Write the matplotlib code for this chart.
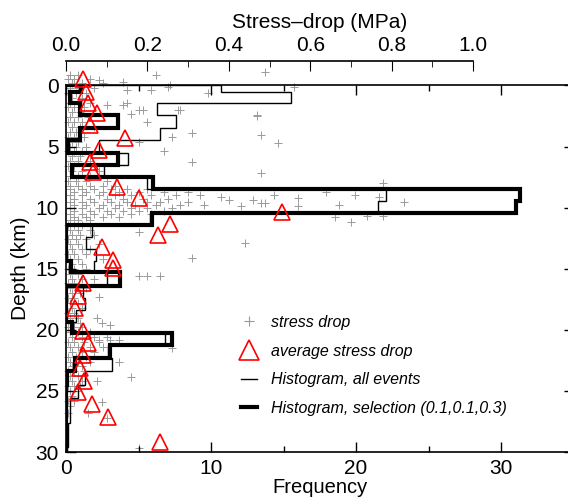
import matplotlib.pyplot as plt
from matplotlib.lines import Line2D
from matplotlib.ticker import FixedLocator, MultipleLocator, FormatStrFormatter

plt.rcParams['font.family'] = ['Liberation Sans', 'DejaVu Sans']

# depth bins (km) and histogram heights (frequency)
depth_edges = [0, 0.5, 1.45, 2.45, 3.45, 4.45, 5.5, 6.5, 7.45, 8.45, 9.45, 10.45,
               11.4, 12.4, 13.4, 14.4, 15.3, 16.4, 17.4, 18.4, 19.35, 20.3, 21.25,
               22.3, 23.4, 24.5, 25.6, 26.6, 27.6, 28.6, 29.6, 30]
hist_all = [10.7, 15.5, 6.25, 7.6, 6.5, 2.3, 4.3, 2.6, 5.6, 22.1, 21.5, 5.8,
            1.8, 1.4, 2.1, 1.9, 2.8, 1.2, 1.3, 0.7, 0.5, 6.8, 2.9, 3.15, 1.3,
            0.85, 0.3, 0.25, 0.15, 0.15, 0.1]
hist_sel = [1.0, 0.3, 0.95, 3.6, 0.95, 0.15, 3.6, 0.4, 6.0, 31.3, 31.0, 5.9,
            0, 0, 0, 0.35, 3.7, 0, 0, 0, 0.4, 7.3, 3.0, 0.6, 0.1,
            0, 0, 0, 0, 0, 0]

# average stress drop per depth
avg_depth = [-0.5, 0.5, 1.4, 2.25, 3.2, 4.3, 5.3, 6.3, 7.1, 8.3, 9.2, 10.35, 11.3,
             12.2, 13.2, 14.3, 14.9, 16.2, 17.2, 18.2, 20.1, 21.1, 22.1, 23.1,
             24.2, 25.1, 26.1, 27.1, 29.2]
avg_stress = [0.042, 0.05, 0.055, 0.075, 0.06, 0.145, 0.08, 0.06, 0.067, 0.125,
              0.18, 0.53, 0.255, 0.226, 0.088, 0.116, 0.116, 0.042, 0.03, 0.022,
              0.042, 0.054, 0.042, 0.034, 0.045, 0.03, 0.064, 0.103, 0.23]

# individual stress drops: (depth km, [stress drops MPa])
sd_rows = [
    (-1.1, [0.49]), (-0.9, [0.01, 0.03, 0.22]), (-0.5, [0.005, 0.02, 0.06]),
    (-0.3, [0.14]), (-0.45, [0.08]), (-0.2, [0.015, 0.04, 0.09]),
    (0.0, [0.255]), (0.1, [0.25]), (0.15, [0.56]),
    (0.2, [0.01, 0.03, 0.07]), (0.35, [0.15, 0.21]), (0.6, [0.005, 0.025, 0.05, 0.35]),
    (1.0, [0.015, 0.04]), (1.4, [0.01, 0.03, 0.06, 0.15]), (1.6, [0.1, 0.14]),
    (1.8, [0.005, 0.02, 0.045]), (2.0, [0.18, 0.19, 0.275, 0.28]),
    (2.2, [0.015, 0.035]), (2.3, [0.16]), (2.4, [0.47]), (2.5, [0.47]),
    (2.6, [0.01, 0.03, 0.055]), (3.0, [0.005, 0.02, 0.04, 0.2]),
    (3.4, [0.015, 0.035, 0.07]), (3.8, [0.01, 0.025]), (3.9, [0.31]),
    (4.05, [0.48]), (4.2, [0.005, 0.02, 0.045, 0.26]), (4.6, [0.015, 0.03, 0.18]),
    (4.7, [0.52]), (5.0, [0.01, 0.025, 0.05]), (5.4, [0.005, 0.02, 0.04, 0.24]),
    (5.8, [0.015, 0.035]), (6.2, [0.01, 0.03, 0.06]), (6.3, [0.31]),
    (6.6, [0.005, 0.02]), (7.0, [0.015, 0.04, 0.08]), (7.2, [0.48]),
    (7.4, [0.01, 0.03, 0.06]), (7.8, [0.005, 0.025, 0.05, 0.1]), (8.0, [0.78]),
    (8.2, [0.01, 0.03, 0.06, 0.09, 0.12]), (8.5, [0.01, 0.04, 0.07, 0.11, 0.15, 0.2]),
    (8.7, [0.64]), (8.75, [0.02, 0.05, 0.09, 0.13, 0.18, 0.24, 0.3]),
    (9.0, [0.01, 0.04, 0.08, 0.12, 0.16, 0.21, 0.27, 0.33, 0.51, 0.71]),
    (9.1, [0.38, 0.77]), (9.2, [0.57]),
    (9.25, [0.02, 0.06, 0.1, 0.14, 0.19, 0.25]),
    (9.4, [0.4, 0.46]), (9.5, [0.01, 0.04, 0.07, 0.11, 0.15, 0.2, 0.23, 0.3, 0.83]),
    (9.6, [0.48, 0.49]), (9.75, [0.02, 0.05, 0.09, 0.13, 0.17, 0.22, 0.28, 0.34]),
    (9.8, [0.67]), (9.9, [0.43, 0.57]),
    (10.0, [0.01, 0.04, 0.08, 0.12, 0.16, 0.2, 0.26]),
    (10.25, [0.02, 0.06, 0.1, 0.14, 0.18, 0.24]),
    (10.5, [0.01, 0.04, 0.07, 0.11, 0.16, 0.21]), (10.7, [0.74, 0.78]),
    (10.75, [0.02, 0.05, 0.09, 0.13]), (10.8, [0.66]), (11.0, [0.01, 0.03, 0.06]),
    (11.2, [0.7]), (11.4, [0.005, 0.02, 0.04]), (11.8, [0.01, 0.03, 0.06]),
    (12.0, [0.18]), (12.2, [0.015, 0.035, 0.07]), (12.6, [0.005, 0.025, 0.05]),
    (12.9, [0.44]), (13.0, [0.01, 0.03, 0.08]), (13.4, [0.015, 0.04, 0.06]),
    (13.8, [0.005, 0.02, 0.05]), (14.1, [0.31]), (14.2, [0.01, 0.03, 0.09]),
    (14.6, [0.015, 0.04]), (15.0, [0.005, 0.02, 0.05]),
    (15.4, [0.01, 0.03]), (15.6, [0.18, 0.2, 0.23]), (15.8, [0.015, 0.04, 0.07]),
    (16.2, [0.005, 0.02]), (16.6, [0.01, 0.03, 0.05]), (17.0, [0.015, 0.035]),
    (17.3, [0.08]), (17.4, [0.005, 0.02]), (17.8, [0.01, 0.03]),
    (18.2, [0.015, 0.04]), (18.6, [0.005, 0.02]), (19.0, [0.01, 0.03, 0.075]),
    (19.4, [0.015, 0.035, 0.088]), (19.6, [0.108]), (19.8, [0.005, 0.02, 0.04]),
    (20.2, [0.01, 0.03, 0.06]), (20.6, [0.015, 0.04, 0.07, 0.1]),
    (20.8, [0.08, 0.108, 0.13]), (21.0, [0.005, 0.02, 0.045, 0.08]),
    (21.4, [0.01, 0.03, 0.06, 0.09]), (21.5, [0.26]), (21.8, [0.015, 0.04, 0.07]),
    (22.2, [0.005, 0.025, 0.05]), (22.6, [0.01, 0.03, 0.06, 0.13]),
    (23.0, [0.015, 0.04]), (23.4, [0.005, 0.02, 0.045]), (23.8, [0.01, 0.03]),
    (23.9, [0.16]), (24.2, [0.015, 0.04, 0.075]), (24.6, [0.005, 0.02, 0.035]),
    (25.0, [0.01, 0.03]), (25.4, [0.015]), (25.8, [0.005, 0.02]), (25.9, [0.088]),
    (26.2, [0.01]), (26.8, [0.005, 0.055]), (27.2, [0.1]), (29.7, [0.18]),
]

W, H = 568, 498
fig = plt.figure(figsize=(W / 100, H / 100), dpi=100)
ax = fig.add_axes([66 / W, 1 - 452 / H, 507.5 / W, (452 - 85.5) / H])
ax2 = ax.twiny()
ax2.set_xlim(0, 507.5 / 407)

sd_depth = [d for d, vals in sd_rows for v in vals]
sd_stress = [v for d, vals in sd_rows for v in vals]

gray = '#9a9a9a'
ax.plot(sd_stress, sd_depth, '+', color=gray, ms=5.5, mew=0.7, clip_on=False,
        transform=ax2.transData, zorder=1)
ax.stairs(hist_all, depth_edges, orientation='horizontal', color='black', lw=1.0, zorder=2)
ax.stairs(hist_sel, depth_edges, orientation='horizontal', color='black', lw=3.0, zorder=3)
ax.plot(avg_stress, avg_depth, '^', mfc='none', mec='red', ms=12, mew=1.2,
        clip_on=False, transform=ax2.transData, zorder=4)

ax.set_xlim(0, 35)
ax.set_ylim(30, 0)
ax.xaxis.set_major_locator(MultipleLocator(10))
ax.xaxis.set_minor_locator(MultipleLocator(5))
ax.yaxis.set_major_locator(MultipleLocator(5))
ax.tick_params(which='both', direction='in', top=True, right=True, labelsize=15,
               width=1.0, pad=5)
ax.tick_params(which='major', length=7)
ax.tick_params(which='minor', length=4)
for s in ax.spines.values():
    s.set_linewidth(1.2)
ax.set_xlabel('Frequency', fontsize=14.5, labelpad=0)
ax.set_ylabel('Depth (km)', fontsize=15, labelpad=4)

for name in ['bottom', 'left', 'right']:
    ax2.spines[name].set_visible(False)
ax2.spines['top'].set_position(('outward', 17.6))
ax2.spines['top'].set_bounds(0, 1)
ax2.spines['top'].set_linewidth(1.2)
ax2.xaxis.set_major_locator(FixedLocator([0, 0.2, 0.4, 0.6, 0.8, 1.0]))
ax2.xaxis.set_minor_locator(FixedLocator([0.1, 0.3, 0.5, 0.7, 0.9]))
ax2.xaxis.set_major_formatter(FormatStrFormatter('%.1f'))
ax2.tick_params(which='both', direction='in', labelsize=15, pad=4)
ax2.tick_params(which='major', length=7)
ax2.tick_params(which='minor', length=4)
ax2.set_xlabel('Stress–drop (MPa)', fontsize=15, labelpad=6)

handles = [
    Line2D([], [], ls='none', marker='+', color=gray, ms=7, mew=0.8),
    Line2D([], [], ls='none', marker='^', mfc='none', mec='red', ms=14, mew=1.2),
    Line2D([], [], color='black', lw=1.0),
    Line2D([], [], color='black', lw=3.0),
]
labels = ['stress drop', 'average stress drop', 'Histogram, all events',
          'Histogram, selection (0.1,0.1,0.3)']
fig.legend(handles, labels, loc='upper left', bbox_to_anchor=(241 / W, 1 - 315 / H),
           frameon=False, prop={'style': 'italic', 'size': 11.5}, handlelength=1.0,
           handletextpad=0.9, labelspacing=0.85, borderpad=0, borderaxespad=0)

fig.savefig('out.png', dpi=100)
